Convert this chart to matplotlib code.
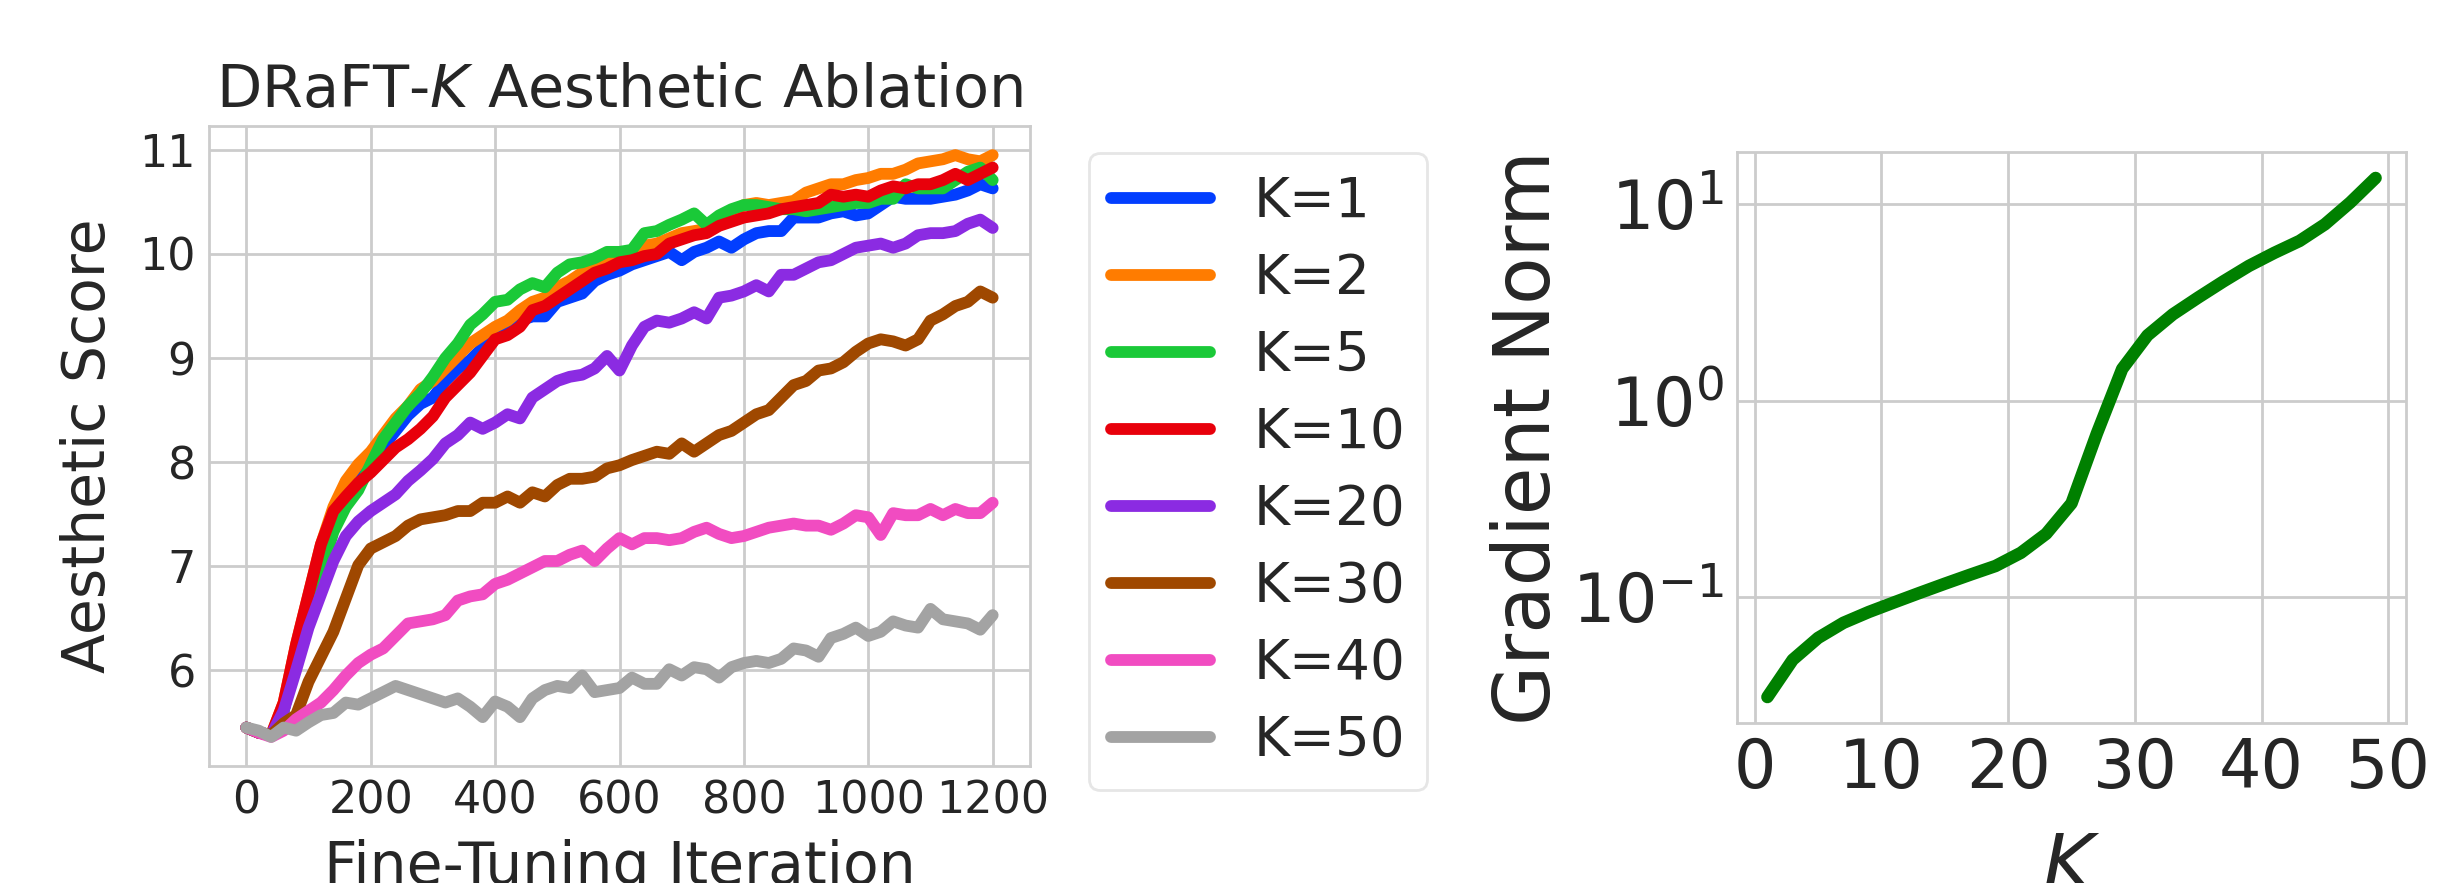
import numpy as np
import matplotlib
matplotlib.use("Agg")
import matplotlib.pyplot as plt
import seaborn as sns

# ---------------- data ----------------
iters = list(range(0, 1201, 20))

k1 = [5.45, 5.40, 5.38, 5.61, 6.13, 6.61, 6.95, 7.35, 7.60, 7.82, 7.95, 8.15, 8.30, 8.45, 8.56, 8.62,
      8.78, 8.90, 8.98, 9.10, 9.22, 9.26, 9.36, 9.40, 9.40, 9.54, 9.58, 9.62, 9.74, 9.80, 9.84,
      9.90, 9.94, 9.98, 10.02, 9.94, 10.02, 10.06, 10.12, 10.06, 10.14, 10.20, 10.22, 10.22, 10.35, 10.35,
      10.35, 10.39, 10.41, 10.37, 10.39, 10.47, 10.55, 10.53, 10.53, 10.53, 10.55, 10.57, 10.61, 10.67, 10.63]
k2 = [5.45, 5.40, 5.38, 5.69, 6.25, 6.73, 7.21, 7.57, 7.82, 7.98, 8.10, 8.26, 8.42, 8.54, 8.70, 8.78,
      8.90, 9.02, 9.14, 9.22, 9.30, 9.36, 9.46, 9.54, 9.58, 9.68, 9.74, 9.82, 9.90, 9.96, 10.02,
      10.02, 10.08, 10.10, 10.15, 10.20, 10.22, 10.24, 10.33, 10.39, 10.47, 10.49, 10.47, 10.49, 10.51, 10.59,
      10.63, 10.67, 10.67, 10.71, 10.73, 10.77, 10.77, 10.81, 10.87, 10.89, 10.91, 10.95, 10.91, 10.89, 10.95]
k5 = [5.45, 5.40, 5.38, 5.61, 6.13, 6.61, 6.93, 7.33, 7.57, 7.73, 7.98, 8.22, 8.38, 8.54, 8.66, 8.82,
      9.00, 9.14, 9.32, 9.42, 9.54, 9.56, 9.66, 9.72, 9.68, 9.82, 9.90, 9.92, 9.96, 10.02, 10.02,
      10.04, 10.20, 10.22, 10.28, 10.33, 10.39, 10.28, 10.37, 10.43, 10.47, 10.47, 10.45, 10.43, 10.43, 10.41,
      10.43, 10.45, 10.47, 10.49, 10.49, 10.53, 10.53, 10.67, 10.63, 10.63, 10.63, 10.71, 10.79, 10.83, 10.71]
k10 = [5.45, 5.40, 5.38, 5.69, 6.25, 6.73, 7.21, 7.53, 7.67, 7.80, 7.90, 8.02, 8.14, 8.22, 8.32, 8.44,
       8.62, 8.74, 8.86, 9.02, 9.18, 9.22, 9.30, 9.46, 9.50, 9.58, 9.66, 9.74, 9.82, 9.86, 9.92,
       9.94, 9.98, 10.00, 10.10, 10.14, 10.18, 10.20, 10.27, 10.31, 10.35, 10.37, 10.39, 10.43, 10.45, 10.47,
       10.49, 10.57, 10.55, 10.57, 10.55, 10.61, 10.65, 10.63, 10.67, 10.67, 10.71, 10.77, 10.71, 10.77, 10.83]
k20 = [5.45, 5.40, 5.38, 5.61, 6.00, 6.41, 6.73, 7.05, 7.29, 7.43, 7.53, 7.61, 7.69, 7.82, 7.92, 8.03,
       8.18, 8.26, 8.38, 8.32, 8.38, 8.46, 8.42, 8.62, 8.70, 8.78, 8.82, 8.84, 8.90, 9.02, 8.88,
       9.12, 9.30, 9.36, 9.34, 9.38, 9.44, 9.38, 9.58, 9.60, 9.64, 9.70, 9.64, 9.80, 9.80, 9.86,
       9.92, 9.94, 10.00, 10.06, 10.08, 10.10, 10.06, 10.10, 10.18, 10.20, 10.20, 10.22, 10.29, 10.33, 10.25]
k30 = [5.45, 5.40, 5.38, 5.49, 5.57, 5.89, 6.13, 6.37, 6.69, 7.01, 7.17, 7.23, 7.29, 7.39, 7.45, 7.47,
       7.49, 7.53, 7.53, 7.61, 7.61, 7.67, 7.61, 7.71, 7.67, 7.78, 7.84, 7.84, 7.86, 7.94, 7.97,
       8.02, 8.06, 8.10, 8.08, 8.18, 8.10, 8.18, 8.26, 8.30, 8.38, 8.46, 8.50, 8.62, 8.74, 8.78,
       8.88, 8.90, 8.96, 9.06, 9.14, 9.18, 9.16, 9.12, 9.18, 9.36, 9.42, 9.50, 9.54, 9.64, 9.58]
k40 = [5.45, 5.40, 5.36, 5.42, 5.53, 5.61, 5.69, 5.81, 5.95, 6.07, 6.15, 6.21, 6.33, 6.45, 6.47, 6.49,
       6.53, 6.67, 6.71, 6.73, 6.83, 6.87, 6.93, 6.99, 7.05, 7.05, 7.11, 7.15, 7.05, 7.17, 7.27,
       7.21, 7.27, 7.27, 7.25, 7.27, 7.33, 7.37, 7.31, 7.27, 7.29, 7.33, 7.37, 7.39, 7.41, 7.39,
       7.39, 7.35, 7.41, 7.49, 7.47, 7.30, 7.51, 7.49, 7.49, 7.55, 7.49, 7.55, 7.51, 7.51, 7.61]
k50 = [5.45, 5.42, 5.36, 5.45, 5.42, 5.50, 5.57, 5.59, 5.69, 5.67, 5.73, 5.79, 5.85, 5.81, 5.77, 5.73,
       5.69, 5.73, 5.65, 5.55, 5.70, 5.65, 5.55, 5.73, 5.81, 5.85, 5.83, 5.95, 5.79, 5.81, 5.83,
       5.93, 5.87, 5.87, 6.01, 5.95, 6.03, 6.01, 5.93, 6.03, 6.07, 6.09, 6.07, 6.11, 6.21, 6.19,
       6.13, 6.31, 6.35, 6.41, 6.33, 6.37, 6.47, 6.43, 6.41, 6.59, 6.49, 6.47, 6.45, 6.39, 6.53]

series_labels = ["K=1", "K=2", "K=5", "K=10", "K=20", "K=30", "K=40", "K=50"]
series_values = [k1, k2, k5, k10, k20, k30, k40, k50]

grad_k = [1, 3, 5, 7, 9, 11, 13, 15, 17, 19, 21, 23, 25, 27, 29, 31, 33, 35, 37, 39, 41, 43, 45, 47, 49]
grad_norm = [0.031, 0.048, 0.062, 0.074, 0.084, 0.094, 0.105, 0.117, 0.130, 0.144, 0.168, 0.21, 0.30,
             0.68, 1.45, 2.15, 2.75, 3.35, 4.05, 4.85, 5.65, 6.5, 7.9, 10.2, 13.6]

left_xticks = [0, 200, 400, 600, 800, 1000, 1200]
left_yticks = [6, 7, 8, 9, 10, 11]
right_xticks = [0, 10, 20, 30, 40, 50]

# ---------------- style ----------------
sns.set_style("whitegrid")
plt.rcParams['font.family'] = ['DejaVu Sans']
plt.rcParams['mathtext.fontset'] = 'dejavusans'

colors = ['#023eff', '#ff7c00', '#1ac938', '#e8000b', '#8b2be2', '#9f4800', '#f14cc1', '#a3a3a3']

W, H = 2440, 883
fig = plt.figure(figsize=(W / 100, H / 100), dpi=100)

def fr(x0, y0, x1, y1):
    return [x0 / W, 1 - y1 / H, (x1 - x0) / W, (y1 - y0) / H]

ax1 = fig.add_axes(fr(209, 126, 1030, 766))
ax2 = fig.add_axes(fr(1737, 152, 2406, 723))

lw = 8.5
handles = []
for lab, vals, c in zip(series_labels, series_values, colors):
    h, = ax1.plot(iters, vals, color=c, lw=lw, label=lab, solid_capstyle='round',
                  solid_joinstyle='round')
    handles.append(h)

ax1.set_xticks(left_xticks)
ax1.set_yticks(left_yticks)
ax1.tick_params(labelsize=32, colors='0.15', pad=6)
ax1.set_title("DRaFT-$K$ Aesthetic Ablation", fontsize=42.5, color='0.15', pad=14)
ax1.set_xlabel("Fine-Tuning Iteration", fontsize=42, color='0.15', labelpad=12)
ax1.set_ylabel("Aesthetic Score", fontsize=42, color='0.15', labelpad=16)
for s in ax1.spines.values():
    s.set_color('0.8')
    s.set_linewidth(2)
ax1.grid(color='0.8', lw=2)

leg = fig.legend(handles=handles, labels=series_labels, loc='upper left',
                 bbox_to_anchor=(1089 / W, 1 - 153 / H), fontsize=39.5,
                 frameon=True, fancybox=True, edgecolor='0.9', framealpha=1,
                 handlelength=1.8, labelspacing=0.42, borderpad=0.4, borderaxespad=0)
leg.get_frame().set_linewidth(2)
for t in leg.get_texts():
    t.set_color('0.15')

ax2.plot(grad_k, grad_norm, color='green', lw=9, solid_capstyle='round')
ax2.set_yscale('log')
ax2.set_xticks(right_xticks)
ax2.tick_params(labelsize=48, colors='0.15', pad=6)
ax2.tick_params(which='minor', length=0)
ax2.set_ylabel("Gradient Norm", fontsize=56, color='0.15')
ax2.set_xlabel("$K$", fontsize=56, color='0.15', labelpad=20)
for s in ax2.spines.values():
    s.set_color('0.8')
    s.set_linewidth(2)
ax2.grid(color='0.8', lw=2)
ax2.grid(which='minor', visible=False)

fig.savefig("out.png", dpi=100)
